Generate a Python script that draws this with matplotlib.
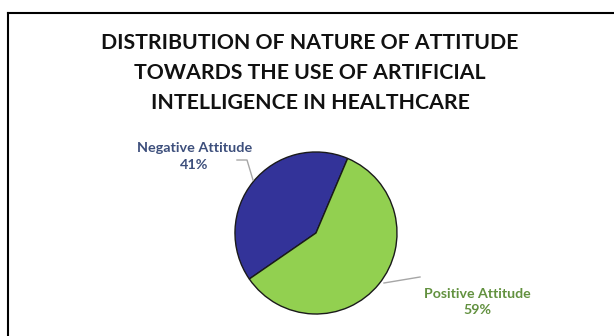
import matplotlib
matplotlib.use('Agg')
import matplotlib.pyplot as plt
from matplotlib.lines import Line2D

# data
labels = ['Negative Attitude', 'Positive Attitude']
shares = [41, 59]
colors = ['#333399', '#92D050']
text_colors = ['#3D4F7C', '#62913F']
title = 'DISTRIBUTION OF NATURE OF ATTITUDE\nTOWARDS THE USE OF ARTIFICIAL\nINTELLIGENCE IN HEALTHCARE'

plt.rcParams['font.family'] = ['Lato', 'DejaVu Sans']

W, H = 614, 336
fig = plt.figure(figsize=(W / 100, H / 100), dpi=100)
ax = fig.add_axes([0, 0, 1, 1])

# outer frame (left + top edges visible)
fig.add_artist(Line2D([8 / W, 8 / W], [0, 1 - 12.5 / H], color='black', lw=1.5))
fig.add_artist(Line2D([8 / W, 1], [1 - 12.5 / H, 1 - 12.5 / H], color='black', lw=1.5))

cx, cy, r = 316, 233, 81
wedges, _ = ax.pie(shares, colors=colors, startangle=-67, counterclock=False,
                   center=(cx, cy), radius=r, explode=[0.04, 0],
                   wedgeprops=dict(edgecolor='#1a1a1a', linewidth=1.0),
                   frame=True)
ax.set_xlim(0, W)
ax.set_ylim(H, 0)
ax.set_aspect('equal')
ax.axis('off')

ax.text(310, 73, title, ha='center', va='center', fontsize=15.3,
        fontweight='bold', color='#111111', linespacing=1.62)

# data labels with leader lines
ax.text(194.5, 156.5, f'{labels[0]}\n{shares[0]}%', ha='center', va='center',
        fontsize=10.4, fontweight='bold', color=text_colors[0], linespacing=1.5)
ax.plot([237, 247, 253], [160, 160, 180], color='#a6a6a6', lw=1)

ax.text(477, 302, f'{labels[1]}\n{shares[1]}%', ha='center', va='center',
        fontsize=10.2, fontweight='bold', color=text_colors[1], linespacing=1.5)
ax.plot([384, 420], [283, 277], color='#a6a6a6', lw=1)

fig.savefig('out.png', dpi=100, facecolor='white')
